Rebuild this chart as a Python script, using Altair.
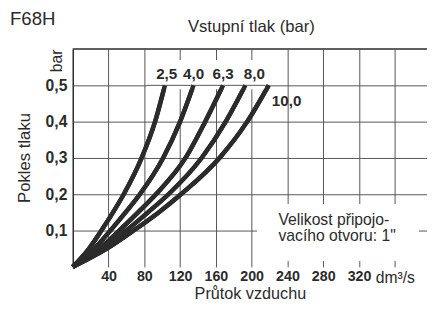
import altair as alt
import pandas as pd

# ---- data ----
pressure_labels = ["2,5", "4,0", "6,3", "8,0", "10,0"]
drop = [0, 0.05, 0.1, 0.15, 0.2, 0.3, 0.4, 0.5]          # bar
flow_25 = [0, 18, 32, 45, 57, 77, 92, 103]               # dm3/s
flow_40 = [0, 24, 42, 59, 75, 101, 120, 135]
flow_63 = [0, 30, 52, 73, 93, 126, 148, 168]
flow_80 = [0, 34, 60, 84, 107, 144, 171, 193]
flow_100 = [0, 38, 68, 96, 121, 164, 195, 219]

label_x = [105, 135, 168, 203, 239]
label_y = [0.532, 0.532, 0.532, 0.532, 0.457]

x_ticks = [40, 80, 120, 160, 200, 240, 280, 320, 360]
y_ticks = [0.1, 0.2, 0.3, 0.4, 0.5]

note_lines = ["Velikost připojo-", "vacího otvoru: 1\""]
note_x = [230, 230]
note_y = [0.128, 0.084]

FONT = "Liberation Sans"
INK = "#2b2b2b"
GRID = "#555555"

rows = []
for lbl, flows in zip(pressure_labels, [flow_25, flow_40, flow_63, flow_80, flow_100]):
    for i, (f, d) in enumerate(zip(flows, drop)):
        rows.append({"series": lbl, "flow": f, "drop": d, "i": i})
curves = pd.DataFrame(rows)
labels = pd.DataFrame({"t": pressure_labels, "x": label_x, "y": label_y})
notes = pd.DataFrame({"t": note_lines, "x": note_x, "y": note_y})

xs = alt.Scale(domain=[0, 396], nice=False, zero=True)
ys = alt.Scale(domain=[0, 0.6], nice=False)

x_axis = alt.Axis(
    values=x_ticks, grid=True, gridColor=GRID, gridWidth=1, domain=False, ticks=False,
    labelExpr="datum.value == 360 ? 'dm³/s' : datum.label",
    labelFontWeight=alt.condition("datum.value == 360", alt.value("normal"), alt.value("bold")),
    labelFontSize=alt.condition("datum.value == 360", alt.value(16), alt.value(14.5)),
    labelFont=FONT, labelColor=INK, labelPadding=3, title=None,
)
y_axis = alt.Axis(
    values=y_ticks, grid=True, gridColor=GRID, gridWidth=1, domain=True, domainColor=INK,
    domainWidth=1.5, ticks=False,
    labelExpr="replace(format(datum.value, '.1f'), '.', ',')",
    labelFont=FONT, labelFontSize=16, labelFontWeight="bold", labelColor=INK,
    labelPadding=6, title=None,
)

lines = alt.Chart(curves).mark_line(
    color=INK, strokeWidth=4.5, interpolate="monotone", strokeCap="butt"
).encode(
    x=alt.X("flow:Q", scale=xs, axis=x_axis),
    y=alt.Y("drop:Q", scale=ys, axis=y_axis),
    detail="series:N",
    order="i:Q",
)

box_df = pd.DataFrame({"x": [83, 206], "x2": [215, 387], "y": [0.489, 0.016], "y2": [0.570, 0.173]})
boxes = alt.Chart(box_df).mark_rect(color="white").encode(
    x=alt.X("x:Q", scale=xs), x2="x2:Q", y=alt.Y("y:Q", scale=ys), y2="y2:Q"
)

rule_df = pd.DataFrame({"x": [83], "x2": [215], "y": [0.5]})
half_rule = alt.Chart(rule_df).mark_rule(color=GRID, strokeWidth=1).encode(
    x=alt.X("x:Q", scale=xs), x2="x2:Q", y=alt.Y("y:Q", scale=ys)
)

top_df = pd.DataFrame({"x": [0], "x2": [396], "y": [0.6]})
top_rule = alt.Chart(top_df).mark_rule(color=INK, strokeWidth=1.5).encode(
    x=alt.X("x:Q", scale=xs), x2="x2:Q", y=alt.Y("y:Q", scale=ys)
)

curve_labels = alt.Chart(labels).mark_text(
    font=FONT, fontSize=15.5, fontWeight="bold", color=INK, baseline="middle"
).encode(x=alt.X("x:Q", scale=xs), y=alt.Y("y:Q", scale=ys), text="t:N")

note_text = alt.Chart(notes).mark_text(
    font=FONT, fontSize=16, color=INK, align="left", baseline="middle"
).encode(x=alt.X("x:Q", scale=xs), y=alt.Y("y:Q", scale=ys), text="t:N")

def annot(text, x, y, size, angle=0, align="center", baseline="alphabetic"):
    return alt.Chart(pd.DataFrame({"t": [text]})).mark_text(
        font=FONT, fontSize=size, color=INK, align=align, baseline=baseline,
        angle=angle,
    ).encode(x=alt.value(x), y=alt.value(y), text="t:N")

title_f = annot("F68H", -64, -25, 19, align="left")
title_top = annot("Vstupní tlak (bar)", 182, -17, 17)
unit_bar = annot("bar", -11, 12, 16, angle=270)
y_title = annot("Pokles tlaku", -44, 111, 17, angle=270)
x_title = annot("Průtok vzduchu", 181, 255, 16.5)

chart = alt.layer(
    lines, boxes, half_rule, top_rule, lines, curve_labels, note_text,
    title_f, title_top, unit_bar, y_title, x_title,
).properties(
    width=361, height=222,
    autosize=alt.AutoSizeParams(type="none"),
    padding={"left": 66, "top": 39, "right": 0, "bottom": 34},
).configure_view(strokeWidth=0)

chart.save("out.html", embed_options={"renderer": "svg", "actions": False})
